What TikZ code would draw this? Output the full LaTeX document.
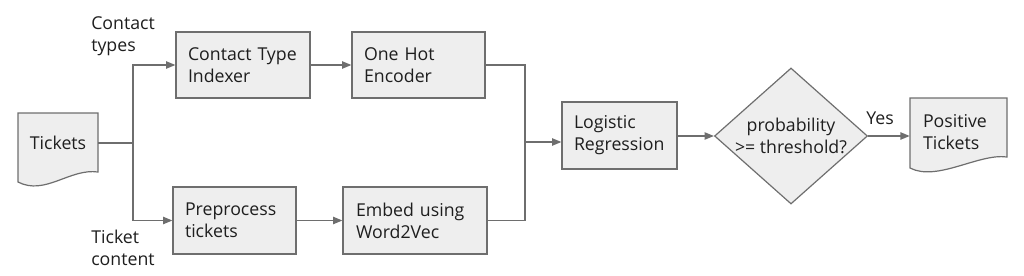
\documentclass[tikz,border=0pt]{standalone}
\usepackage{fontspec}
\setmainfont{Open Sans}
\usetikzlibrary{arrows.meta,shapes.geometric,calc}
\definecolor{lc}{HTML}{6E6E6E}
\definecolor{fc}{HTML}{EEEEEE}
\definecolor{tc}{HTML}{1E1E1E}
\begin{document}
\begin{tikzpicture}[x=0.75pt,y=0.75pt,
  every node/.style={font=\fontsize{13.3pt}{16.5pt}\selectfont, text=tc},
  box/.style={draw=lc, fill=fc, line width=0.9pt, rectangle, align=left,
    inner ysep=0pt, inner xsep=9pt},
  doc/.style={draw=lc, fill=fc, line width=0.9pt},
  conn/.style={draw=lc, line width=1pt},
  arr/.style={conn, -{Triangle[length=7pt,width=5.5pt]}},
  lbl/.style={align=left, inner sep=0pt, anchor=west}
]
\useasboundingbox (0,0) rectangle (1024,-275);

% document shapes
\draw[doc] (18,-182) -- (18,-113) -- (98,-113) -- (98,-172)
  .. controls (70,-168) and (45,-196) .. (18,-182) -- cycle;
\draw[doc] (910,-168) -- (910,-98) -- (1007,-98) -- (1007,-157)
  .. controls (979,-153) and (937,-182) .. (910,-168) -- cycle;

\node[minimum width=60pt, minimum height=45pt, inner sep=0pt] (tix) at (58,-143) {Tickets};
\node[minimum width=72.75pt, minimum height=44pt, text width=53.25pt, inner xsep=9.75pt, inner ysep=0pt, align=left] (pos) at (958.5,-132) {Positive\\Tickets};

% boxes
\node[box, minimum width=100.5pt, minimum height=49.5pt, text width=82.5pt] (cti) at (243,-65) {Contact~Type\\Indexer};
\node[box, minimum width=99.75pt, minimum height=49.5pt, text width=81.75pt, inner xsep=8.25pt] (ohe) at (418.5,-65) {One~Hot\\Encoder};
\node[box, minimum width=92.25pt, minimum height=50.25pt, text width=74.25pt] (pre) at (234.5,-220.5) {Preprocess\\tickets};
\node[box, minimum width=108pt, minimum height=50.25pt, text width=88.5pt, inner xsep=9.75pt] (emb) at (415,-220.5) {Embed~using\\Word2Vec};
\node[box, minimum width=86.25pt, minimum height=50.25pt, text width=68.25pt] (lr) at (619.5,-135.5) {Logistic\\Regression};

\node[diamond, draw=lc, fill=fc, line width=0.9pt, minimum width=114.75pt, minimum height=102pt, inner sep=0pt,
  label={[align=center, font=\fontsize{13.3pt}{16.5pt}\selectfont, text=tc]center:probability\\>=~threshold?}] (dia) at (791,-136) {};

% labels
\node[lbl] (lct) at (91,-36) {Contact\\types};
\node[lbl] (ltc) at (91,-247.5) {Ticket\\content};
\node[inner sep=0pt] (yes) at (880,-118) {Yes};

% connectors
\coordinate (s) at (133,-143);
\coordinate (m) at (525,-142);
\draw[conn] (tix.east) -- (s);
\draw[arr] (s) |- (cti.west);
\draw[arr] (s) |- (pre.west);
\draw[arr] (cti.east) -- (ohe.west);
\draw[arr] (pre.east) -- (emb.west);
\draw[conn] (ohe.east) -| (m);
\draw[conn] (emb.east) -| (m);
\draw[arr] (m) -- (m -| lr.west);
\draw[arr] (lr.east |- dia.west) -- (dia.west);
\draw[arr] (dia.east) -- (dia.east -| pos.west);
\end{tikzpicture}
\end{document}
